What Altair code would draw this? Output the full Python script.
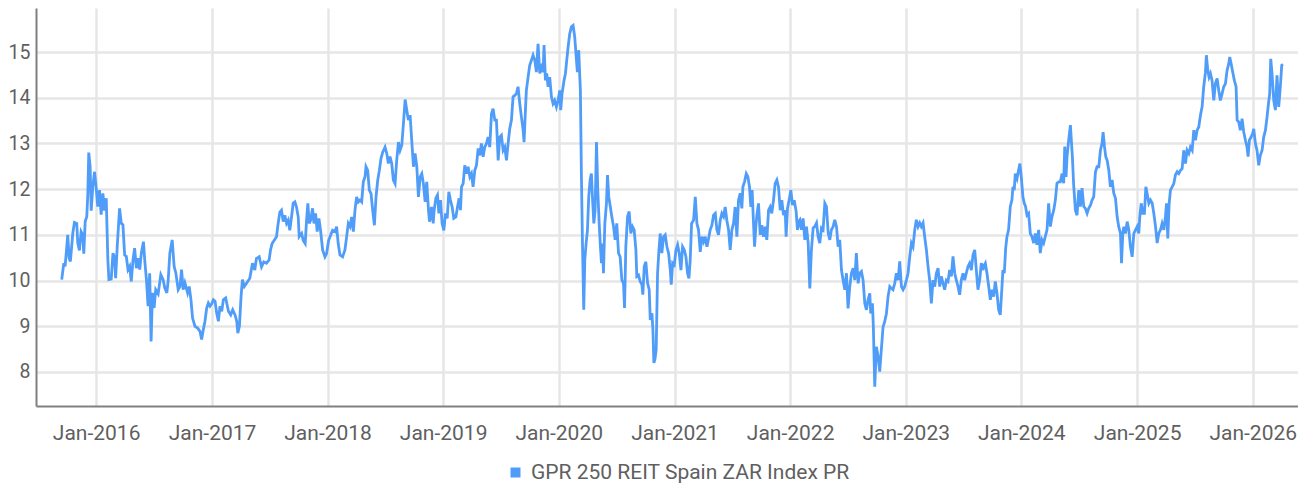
import altair as alt
import pandas as pd

SERIES = "GPR 250 REIT Spain ZAR Index PR"
BLUE = "#4F9CF9"

# time in decimal years
t_2015_2017 = [2015.702, 2015.720, 2015.731, 2015.740, 2015.754, 2015.766, 2015.777, 2015.798, 2015.812, 2015.832,
               2015.841, 2015.855, 2015.870, 2015.884, 2015.893, 2015.905, 2015.919, 2015.928, 2015.936, 2015.948,
               2015.957, 2015.971, 2015.986, 2016.000, 2016.014, 2016.029, 2016.043, 2016.058, 2016.072, 2016.087,
               2016.101, 2016.110, 2016.130, 2016.145, 2016.159, 2016.168, 2016.182, 2016.202, 2016.217, 2016.231,
               2016.246, 2016.260, 2016.275, 2016.289, 2016.303, 2016.318, 2016.332, 2016.347, 2016.361, 2016.376,
               2016.390, 2016.408, 2016.419, 2016.434, 2016.448, 2016.462, 2016.474, 2016.486, 2016.500, 2016.514,
               2016.535, 2016.558, 2016.578, 2016.592, 2016.610, 2016.621, 2016.636, 2016.656, 2016.673, 2016.688,
               2016.708, 2016.723, 2016.737, 2016.751, 2016.766, 2016.789, 2016.803, 2016.818, 2016.832, 2016.853,
               2016.876, 2016.896, 2016.910, 2016.925, 2016.939, 2016.954, 2016.968, 2016.983, 2016.997, 2017.012,
               2017.026, 2017.040, 2017.055, 2017.069, 2017.084, 2017.098, 2017.118, 2017.142, 2017.162, 2017.179,
               2017.199, 2017.214, 2017.223, 2017.237, 2017.251, 2017.263, 2017.280]
v_2015_2017 = [10.02, 10.38, 10.31, 10.56, 11.00, 10.49, 10.42, 11.04, 11.27, 11.25,
               10.82, 10.66, 11.07, 11.00, 10.59, 11.29, 11.40, 11.91, 12.80, 12.49,
               11.53, 12.05, 12.38, 12.04, 11.62, 11.98, 11.44, 11.91, 11.53, 11.80,
               10.45, 10.02, 10.03, 10.60, 10.51, 10.05, 10.75, 11.58, 11.25, 11.22,
               10.56, 10.53, 10.24, 10.31, 9.98, 10.45, 10.71, 10.27, 10.49, 10.24,
               10.60, 10.85, 10.45, 10.02, 9.44, 10.16, 8.67, 9.73, 9.40, 9.80,
               9.71, 10.13, 10.02, 9.84, 9.73, 9.98, 10.60, 10.89, 10.31, 10.16,
               9.80, 9.87, 10.24, 9.80, 9.95, 9.73, 9.87, 9.58, 9.18, 9.00,
               8.96, 8.89, 8.71, 8.93, 9.11, 9.40, 9.51, 9.44, 9.49, 9.58,
               9.55, 9.29, 9.11, 9.44, 9.33, 9.58, 9.62, 9.33, 9.25, 9.36,
               9.25, 9.11, 8.85, 9.00, 9.65, 10.02, 9.87]

t_2017_2018 = [2017.327, 2017.350, 2017.370, 2017.384, 2017.408, 2017.428, 2017.448, 2017.471, 2017.494, 2017.506,
               2017.520, 2017.538, 2017.558, 2017.572, 2017.587, 2017.601, 2017.616, 2017.630, 2017.645, 2017.659,
               2017.673, 2017.688, 2017.702, 2017.717, 2017.731, 2017.746, 2017.754, 2017.775, 2017.789, 2017.806,
               2017.818, 2017.829, 2017.841, 2017.853, 2017.870, 2017.882, 2017.896, 2017.910, 2017.925, 2017.939,
               2017.957, 2017.977, 2017.991, 2018.009, 2018.026, 2018.043, 2018.064, 2018.078, 2018.092, 2018.107,
               2018.130, 2018.150, 2018.165, 2018.179, 2018.194, 2018.208, 2018.223, 2018.237, 2018.251, 2018.266,
               2018.280, 2018.295, 2018.309, 2018.324, 2018.332, 2018.347, 2018.361, 2018.376, 2018.390, 2018.405,
               2018.419, 2018.434, 2018.448, 2018.462, 2018.477, 2018.497, 2018.512, 2018.526, 2018.540, 2018.555,
               2018.569, 2018.584, 2018.598, 2018.613, 2018.627, 2018.642, 2018.656, 2018.671, 2018.685, 2018.699,
               2018.714, 2018.728, 2018.743, 2018.757, 2018.772, 2018.786, 2018.801, 2018.815, 2018.829, 2018.844,
               2018.858, 2018.873, 2018.882]
v_2017_2018 = [10.05, 10.38, 10.23, 10.48, 10.52, 10.30, 10.41, 10.38, 10.45, 10.67,
               10.81, 10.88, 10.96, 11.25, 11.50, 11.54, 11.29, 11.43, 11.25, 11.32,
               11.10, 11.39, 11.69, 11.72, 11.61, 11.39, 10.96, 11.03, 10.88, 10.81,
               11.32, 11.69, 11.25, 11.32, 11.58, 11.25, 11.47, 11.07, 11.36, 11.10,
               10.67, 10.52, 10.59, 10.88, 10.99, 11.10, 11.07, 11.18, 10.81, 10.56,
               10.52, 10.67, 10.96, 11.25, 11.18, 11.39, 11.07, 11.54, 11.83, 11.72,
               11.76, 11.72, 12.16, 12.27, 12.49, 12.41, 11.98, 11.90, 11.54, 11.21,
               11.83, 12.20, 12.41, 12.67, 12.81, 12.92, 12.78, 12.56, 12.71, 12.56,
               12.20, 12.12, 12.63, 13.03, 12.85, 12.96, 13.43, 13.96, 13.73, 13.51,
               13.62, 13.07, 12.49, 12.78, 12.49, 11.83, 12.27, 12.34, 12.12, 11.72,
               12.16, 11.54, 11.29]

t_2018_2020 = [2018.885, 2018.899, 2018.914, 2018.922, 2018.937, 2018.951, 2018.963, 2018.977, 2018.991, 2019.006,
               2019.020, 2019.035, 2019.049, 2019.063, 2019.078, 2019.092, 2019.110, 2019.124, 2019.138, 2019.150,
               2019.159, 2019.173, 2019.187, 2019.202, 2019.216, 2019.231, 2019.245, 2019.259, 2019.274, 2019.288,
               2019.303, 2019.317, 2019.331, 2019.346, 2019.360, 2019.375, 2019.389, 2019.403, 2019.418, 2019.432,
               2019.447, 2019.461, 2019.476, 2019.490, 2019.504, 2019.519, 2019.533, 2019.548, 2019.562, 2019.576,
               2019.591, 2019.605, 2019.620, 2019.634, 2019.648, 2019.663, 2019.677, 2019.692, 2019.700, 2019.712,
               2019.720, 2019.735, 2019.749, 2019.764, 2019.778, 2019.793, 2019.807, 2019.821, 2019.836, 2019.850,
               2019.865, 2019.873, 2019.885, 2019.896, 2019.908, 2019.922, 2019.937, 2019.951, 2019.965, 2019.980,
               2019.994, 2020.009, 2020.017, 2020.029, 2020.046, 2020.058, 2020.072, 2020.081, 2020.095, 2020.110,
               2020.124, 2020.138, 2020.153, 2020.161, 2020.173, 2020.182, 2020.187, 2020.196, 2020.205, 2020.216,
               2020.225, 2020.236, 2020.248, 2020.259, 2020.271, 2020.282, 2020.291, 2020.303, 2020.314, 2020.326,
               2020.337, 2020.349, 2020.360, 2020.369, 2020.378, 2020.386, 2020.398, 2020.412, 2020.421, 2020.432]
v_2018_2020 = [11.32, 11.61, 11.25, 11.54, 11.80, 11.87, 11.47, 11.76, 11.25, 11.10,
               11.47, 11.36, 11.94, 11.76, 11.61, 11.36, 11.39, 11.61, 11.80, 11.54,
               12.05, 12.12, 12.52, 12.34, 12.49, 12.27, 12.34, 12.05, 12.41, 12.52,
               12.89, 12.74, 13.00, 12.71, 12.92, 13.00, 13.14, 12.92, 13.65, 13.76,
               13.51, 13.51, 12.63, 13.14, 13.18, 12.85, 12.92, 12.63, 13.00, 13.32,
               13.51, 14.02, 14.05, 14.09, 14.24, 13.87, 13.58, 13.29, 13.03, 13.73,
               14.16, 14.45, 14.71, 14.82, 14.93, 14.82, 14.56, 15.18, 14.53, 14.67,
               14.56, 15.15, 14.38, 14.53, 14.24, 14.45, 14.02, 13.87, 13.94, 13.80,
               13.94, 14.16, 13.73, 14.09, 14.38, 14.53, 14.89, 15.11, 15.40, 15.55,
               15.58, 15.33, 14.82, 14.56, 15.04, 14.45, 14.16, 12.27, 10.81, 9.36,
               10.45, 10.81, 11.10, 11.83, 12.20, 12.34, 11.83, 11.25, 11.54, 13.03,
               11.98, 11.25, 10.74, 10.38, 10.81, 10.16, 11.25, 11.69, 12.31, 11.83]

t_2020_2022 = [2020.458, 2020.473, 2020.487, 2020.501, 2020.516, 2020.530, 2020.545, 2020.559, 2020.568, 2020.579,
               2020.594, 2020.608, 2020.622, 2020.637, 2020.651, 2020.666, 2020.674, 2020.689, 2020.703, 2020.718,
               2020.726, 2020.738, 2020.752, 2020.767, 2020.781, 2020.790, 2020.804, 2020.813, 2020.821, 2020.830,
               2020.841, 2020.853, 2020.865, 2020.876, 2020.890, 2020.905, 2020.919, 2020.934, 2020.948, 2020.963,
               2020.971, 2020.983, 2020.997, 2021.012, 2021.026, 2021.040, 2021.055, 2021.069, 2021.084, 2021.098,
               2021.112, 2021.124, 2021.135, 2021.147, 2021.164, 2021.179, 2021.193, 2021.207, 2021.222, 2021.236,
               2021.251, 2021.265, 2021.280, 2021.294, 2021.308, 2021.323, 2021.337, 2021.352, 2021.366, 2021.380,
               2021.395, 2021.409, 2021.424, 2021.438, 2021.452, 2021.467, 2021.481, 2021.496, 2021.510, 2021.524,
               2021.539, 2021.553, 2021.568, 2021.582, 2021.591, 2021.605, 2021.620, 2021.634, 2021.648, 2021.660,
               2021.671, 2021.683, 2021.692, 2021.703, 2021.712, 2021.726, 2021.741, 2021.755, 2021.769, 2021.784,
               2021.798, 2021.813, 2021.827, 2021.841, 2021.856, 2021.870, 2021.885, 2021.899, 2021.914, 2021.928,
               2021.942, 2021.957, 2021.965, 2021.977, 2021.991, 2022.006, 2022.020, 2022.035, 2022.052, 2022.063,
               2022.081]
v_2020_2022 = [11.40, 11.18, 10.89, 11.25, 10.60, 10.52, 10.01, 9.94, 9.40, 10.74,
               11.40, 11.51, 11.03, 11.18, 11.11, 10.67, 10.09, 10.12, 9.98, 9.91,
               9.69, 10.31, 10.41, 9.94, 9.80, 9.14, 9.29, 8.92, 8.20, 8.27,
               8.49, 10.16, 10.67, 11.03, 10.60, 10.96, 11.00, 10.74, 10.60, 10.23,
               9.91, 10.38, 10.34, 10.67, 10.78, 10.60, 10.23, 10.74, 10.67, 10.52,
               10.16, 10.05, 10.45, 11.25, 11.32, 11.83, 11.25, 11.11, 10.63, 10.96,
               10.85, 10.96, 10.74, 10.92, 11.11, 11.21, 11.43, 11.47, 11.11, 11.00,
               11.32, 11.47, 11.40, 11.61, 11.32, 11.11, 10.67, 11.11, 11.25, 11.61,
               10.96, 11.76, 11.91, 11.58, 12.05, 12.16, 12.34, 12.27, 12.05, 11.61,
               11.98, 11.25, 10.74, 11.18, 11.43, 11.69, 11.00, 11.21, 10.96, 11.18,
               10.89, 11.54, 11.61, 11.47, 11.76, 12.12, 12.20, 12.05, 11.54, 11.76,
               11.43, 11.54, 10.96, 11.58, 11.76, 11.98, 11.65, 11.76, 11.51, 11.11,
               11.32]

t_2022_2023 = [2022.084, 2022.098, 2022.112, 2022.127, 2022.141, 2022.156, 2022.170, 2022.184, 2022.199, 2022.213,
               2022.228, 2022.242, 2022.256, 2022.271, 2022.285, 2022.300, 2022.314, 2022.329, 2022.343, 2022.357,
               2022.372, 2022.386, 2022.401, 2022.415, 2022.429, 2022.444, 2022.458, 2022.473, 2022.487, 2022.501,
               2022.516, 2022.530, 2022.545, 2022.559, 2022.573, 2022.588, 2022.602, 2022.617, 2022.631, 2022.646,
               2022.660, 2022.674, 2022.689, 2022.697, 2022.712, 2022.720, 2022.732, 2022.746, 2022.761, 2022.775,
               2022.790, 2022.804, 2022.818, 2022.833, 2022.847, 2022.862, 2022.876, 2022.890, 2022.905, 2022.919,
               2022.934, 2022.948, 2022.963, 2022.977, 2022.991, 2023.006, 2023.020, 2023.035, 2023.049, 2023.063,
               2023.078, 2023.092, 2023.107, 2023.121, 2023.135, 2023.150, 2023.164, 2023.179, 2023.193, 2023.207,
               2023.222, 2023.236, 2023.251, 2023.265, 2023.280, 2023.294, 2023.308, 2023.323, 2023.337, 2023.352,
               2023.366, 2023.380, 2023.395, 2023.409, 2023.424, 2023.438, 2023.452, 2023.467, 2023.481, 2023.496,
               2023.510, 2023.524, 2023.539, 2023.553, 2023.568, 2023.582, 2023.597, 2023.611, 2023.625, 2023.640,
               2023.654, 2023.669]
v_2022_2023 = [11.33, 11.11, 11.36, 10.89, 11.18, 10.82, 9.83, 10.67, 11.15, 11.18,
               11.26, 10.96, 10.82, 11.15, 11.11, 11.69, 11.62, 11.04, 10.89, 11.11,
               11.18, 11.33, 11.18, 10.74, 10.89, 10.23, 10.01, 9.80, 10.16, 9.39,
               9.87, 10.16, 10.27, 10.01, 10.60, 9.94, 10.16, 10.20, 10.01, 9.50,
               9.36, 9.58, 9.72, 9.28, 9.50, 8.99, 7.68, 8.55, 8.34, 8.01,
               8.52, 8.99, 9.10, 9.28, 9.65, 9.87, 9.83, 9.80, 9.94, 10.16,
               10.01, 10.42, 9.87, 9.80, 9.87, 10.01, 10.16, 10.53, 10.82, 10.74,
               11.11, 11.33, 11.18, 11.26, 11.18, 11.26, 10.96, 10.67, 10.31, 10.01,
               9.50, 10.01, 9.87, 10.16, 10.27, 9.87, 10.09, 9.94, 9.80, 10.01,
               9.98, 10.23, 10.09, 10.53, 10.16, 10.01, 9.87, 9.69, 10.01, 10.16,
               10.01, 10.16, 10.31, 10.38, 10.23, 10.56, 10.67, 10.23, 9.80, 10.01,
               10.38, 10.23]

t_2023_2025 = [2023.674, 2023.689, 2023.703, 2023.718, 2023.732, 2023.746, 2023.761, 2023.775, 2023.790, 2023.804,
               2023.818, 2023.833, 2023.841, 2023.853, 2023.865, 2023.876, 2023.890, 2023.905, 2023.919, 2023.928,
               2023.939, 2023.948, 2023.963, 2023.977, 2023.988, 2024.000, 2024.014, 2024.026, 2024.037, 2024.049,
               2024.063, 2024.078, 2024.092, 2024.107, 2024.121, 2024.135, 2024.150, 2024.164, 2024.179, 2024.193,
               2024.207, 2024.222, 2024.236, 2024.251, 2024.265, 2024.280, 2024.294, 2024.308, 2024.323, 2024.337,
               2024.352, 2024.366, 2024.375, 2024.386, 2024.395, 2024.409, 2024.424, 2024.432, 2024.441, 2024.452,
               2024.467, 2024.481, 2024.496, 2024.510, 2024.524, 2024.539, 2024.553, 2024.568, 2024.582, 2024.597,
               2024.611, 2024.625, 2024.640, 2024.654, 2024.669, 2024.683, 2024.697, 2024.706, 2024.718, 2024.729,
               2024.741, 2024.755, 2024.769, 2024.784, 2024.798, 2024.813, 2024.827, 2024.841, 2024.856, 2024.865,
               2024.876, 2024.885, 2024.899, 2024.914, 2024.928, 2024.942, 2024.957, 2024.971, 2024.986, 2025.000,
               2025.014, 2025.023, 2025.035, 2025.049, 2025.063, 2025.075, 2025.086, 2025.101, 2025.115, 2025.130,
               2025.144, 2025.159, 2025.173, 2025.187, 2025.202, 2025.216, 2025.231, 2025.245, 2025.254, 2025.265,
               2025.277, 2025.288]
v_2023_2025 = [10.31, 10.38, 10.16, 9.87, 9.58, 9.80, 9.65, 9.98, 9.72, 9.36,
               9.25, 9.87, 10.23, 10.16, 10.71, 10.96, 11.11, 11.62, 11.76, 12.05,
               11.98, 12.34, 12.23, 12.42, 12.56, 12.27, 11.83, 11.69, 11.62, 11.43,
               11.47, 11.03, 10.96, 10.82, 11.03, 10.78, 11.11, 10.60, 10.89, 10.82,
               10.96, 11.11, 11.69, 11.18, 11.40, 11.54, 11.76, 12.13, 12.16, 12.16,
               12.34, 12.13, 12.93, 12.27, 12.71, 13.07, 13.40, 13.07, 12.71, 12.09,
               11.54, 11.43, 11.98, 11.62, 12.02, 11.62, 11.58, 11.47, 11.58, 11.65,
               11.76, 11.83, 12.38, 12.49, 12.49, 12.85, 13.00, 13.25, 12.93, 12.71,
               12.63, 12.42, 12.05, 12.20, 11.91, 11.80, 11.40, 11.18, 11.03, 10.38,
               11.03, 11.18, 11.03, 11.29, 11.11, 10.74, 10.52, 11.03, 11.11, 11.18,
               11.03, 11.40, 11.69, 11.47, 11.47, 12.05, 11.91, 11.69, 11.76, 11.69,
               11.47, 11.18, 10.82, 11.03, 11.11, 11.25, 11.11, 11.40, 11.69, 10.92,
               11.69, 11.98]

t_2025_2026 = [2025.303, 2025.317, 2025.331, 2025.346, 2025.360, 2025.375, 2025.389, 2025.403, 2025.418, 2025.432,
               2025.447, 2025.461, 2025.476, 2025.490, 2025.504, 2025.519, 2025.533, 2025.548, 2025.562, 2025.576,
               2025.591, 2025.599, 2025.611, 2025.622, 2025.634, 2025.648, 2025.663, 2025.677, 2025.692, 2025.706,
               2025.720, 2025.735, 2025.749, 2025.764, 2025.778, 2025.793, 2025.801, 2025.813, 2025.827, 2025.841,
               2025.856, 2025.865, 2025.879, 2025.893, 2025.908, 2025.922, 2025.937, 2025.951, 2025.960, 2025.971,
               2025.986, 2026.000, 2026.009, 2026.023, 2026.037, 2026.052, 2026.066, 2026.081, 2026.095, 2026.110,
               2026.124, 2026.138, 2026.147, 2026.156, 2026.167, 2026.182, 2026.196, 2026.210, 2026.225, 2026.239,
               2026.251, 2026.262]
v_2025_2026 = [12.05, 12.12, 12.31, 12.38, 12.34, 12.41, 12.45, 12.85, 12.56, 12.85,
               12.78, 12.92, 12.85, 13.29, 13.07, 13.29, 13.36, 13.62, 13.80, 14.24,
               14.56, 14.93, 14.60, 14.45, 14.53, 14.38, 13.94, 14.31, 14.42, 14.16,
               13.94, 14.09, 14.24, 14.31, 14.60, 14.75, 14.89, 14.75, 14.56, 14.38,
               14.24, 13.51, 13.47, 13.29, 13.54, 13.25, 13.07, 12.92, 12.71, 13.07,
               13.14, 13.22, 13.32, 13.00, 12.85, 12.52, 12.74, 12.85, 13.14, 13.29,
               13.58, 13.91, 14.09, 14.85, 14.53, 13.94, 13.73, 14.49, 13.80, 14.24,
               14.71, 14.73]

tick_years = list(range(2016, 2027))
y_ticks = [8, 9, 10, 11, 12, 13, 14, 15]

segments = [(t_2015_2017, v_2015_2017), (t_2017_2018, v_2017_2018), (t_2018_2020, v_2018_2020),
            (t_2020_2022, v_2020_2022), (t_2022_2023, v_2022_2023), (t_2023_2025, v_2023_2025),
            (t_2025_2026, v_2025_2026)]
times, values = [], []
for t, v in segments:
    assert len(t) == len(v), (len(t), len(v))
    times += t
    values += v


def to_date(y):
    yr = int(y)
    start = pd.Timestamp(year=yr, month=1, day=1)
    end = pd.Timestamp(year=yr + 1, month=1, day=1)
    return (start + (end - start) * (y - yr)).strftime("%Y-%m-%dT%H:%M:%S")


df = pd.DataFrame({"date": [to_date(t) for t in times], "value": values, "series": SERIES})

FONT = "Roboto"
LABEL = "#5f5f5f"

chart = alt.Chart(df).mark_line(strokeWidth=2.8, interpolate="linear").encode(
    x=alt.X("date:T",
            scale=alt.Scale(domain=[alt.DateTime(year=2015, month=6, date=25),
                                    alt.DateTime(year=2026, month=5, date=24)]),
            axis=alt.Axis(values=[alt.DateTime(year=y, month=1, date=1) for y in tick_years],
                          format="%b-%Y", title=None, labelPadding=16, labelFontSize=21)),
    y=alt.Y("value:Q",
            scale=alt.Scale(domain=[7.256, 15.963], nice=False, zero=False),
            axis=alt.Axis(values=y_ticks, title=None, labelPadding=6, labelFontSize=19.5)),
    color=alt.Color("series:N", scale=alt.Scale(range=[BLUE]),
                    legend=alt.Legend(orient="none", legendX=469, legendY=454, title=None,
                                      symbolType="square", symbolSize=100, symbolFillColor=BLUE,
                                      symbolStrokeWidth=0, labelFontSize=21, labelFont=FONT,
                                      labelColor=LABEL, labelOffset=5, labelLimit=600, padding=0)),
).properties(
    width=1262, height=398,
    autosize=alt.AutoSizeParams(type="none"),
    padding={"left": 28, "top": 0, "right": 0, "bottom": 77},
).configure_axis(
    domainColor="#808080", domainWidth=2, grid=True, gridColor="#e6e6e6", gridWidth=2.5,
    ticks=False, tickSize=0, labelFont=FONT, labelColor=LABEL,
).configure_view(stroke=None)

chart.save("out.html", embed_options={"renderer": "svg", "actions": False})
